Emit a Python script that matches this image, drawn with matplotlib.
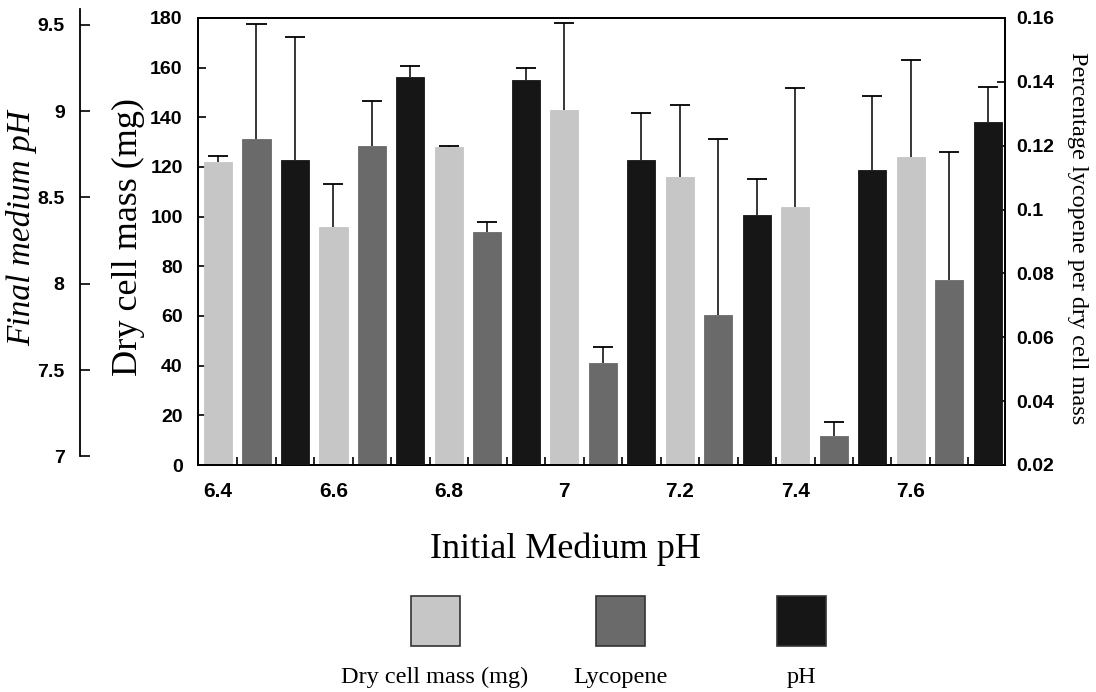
import numpy as np
import matplotlib
matplotlib.use("Agg")
import matplotlib.pyplot as plt
from matplotlib.patches import Rectangle
from matplotlib.ticker import FuncFormatter, FixedLocator

# Initial medium pH groups
initial_ph = ["6.4", "6.6", "6.8", "7", "7.2", "7.4", "7.6"]

# Dry cell mass (mg) and its upper error
dry_mass = [122, 96, 128, 143, 116, 104, 124]
dry_mass_err = [2.5, 17, 0.5, 35, 29, 48, 39]

# Percentage lycopene per dry cell mass and its upper error
lycopene = [0.122, 0.120, 0.093, 0.052, 0.067, 0.029, 0.078]
lycopene_err = [0.036, 0.014, 0.003, 0.005, 0.055, 0.0044, 0.040]

# Final medium pH and its upper error
final_ph = [8.72, 9.20, 9.18, 8.72, 8.40, 8.66, 8.94]
final_ph_err = [0.71, 0.06, 0.07, 0.27, 0.21, 0.43, 0.20]

C_LIGHT = "#c6c6c6"
C_MID = "#6a6a6a"
C_DARK = "#161616"

SERIF = "Liberation Serif"
SANS = "Liberation Sans"

W, H = 1096, 692
fig = plt.figure(figsize=(W / 100, H / 100), dpi=100)
fig.patch.set_facecolor("white")

left, right, top, bottom = 198, 1005, 18, 465
ax = fig.add_axes([left / W, 1 - bottom / H, (right - left) / W, (bottom - top) / H])
ax_ly = ax.twinx()
ax_ph = ax.twinx()

n = len(initial_ph)
x_mass = np.arange(n) * 3
x_ly = x_mass + 1
x_ph = x_mass + 2
bar_w = 0.73
cap_half = 0.26


def bars_with_err(a, xs, vals, errs, color, base):
    a.bar(xs, np.array(vals) - base, bottom=base, width=bar_w, color=color,
          edgecolor=color, linewidth=0.6, zorder=2)
    tops = np.array(vals) + np.array(errs)
    a.vlines(xs, vals, tops, color="black", linewidth=1.1, zorder=3)
    a.hlines(tops, xs - cap_half, xs + cap_half, color="black", linewidth=1.3, zorder=3)


bars_with_err(ax, x_mass, dry_mass, dry_mass_err, C_LIGHT, 0)
bars_with_err(ax_ly, x_ly, lycopene, lycopene_err, C_MID, 0.02)
bars_with_err(ax_ph, x_ph, final_ph, final_ph_err, C_DARK, 6.95)

ax.set_xlim(-0.52, 3 * n - 1 + 0.45)
ax.set_ylim(0, 180)
ax_ly.set_ylim(0.02, 0.16)
ax_ph.set_ylim(6.95, 9.54)

ytick_font = dict(family=SANS, weight="bold", size=14)
xtick_font = dict(family=SANS, weight="bold", size=15)

# left mass axis
ax.set_yticks(np.arange(0, 181, 20))
ax.tick_params(axis="y", direction="in", length=6, width=1.2, pad=11)
for lab in ax.get_yticklabels():
    lab.set(**ytick_font)

# bottom axis: labels under dry-mass bars, tick marks between bars
ax.set_xticks(x_mass)
ax.set_xticklabels(initial_ph)
ax.tick_params(axis="x", which="major", length=0, pad=12)
for lab in ax.get_xticklabels():
    lab.set(**xtick_font)
ax.xaxis.set_minor_locator(FixedLocator(np.arange(0.5, 3 * n - 1, 1.0)))
ax.tick_params(axis="x", which="minor", direction="in", length=6, width=1.2)

# right lycopene axis
ax_ly.set_yticks(np.arange(0.02, 0.161, 0.02))
ax_ly.yaxis.set_major_formatter(FuncFormatter(lambda v, p: f"{v:g}"))
ax_ly.tick_params(axis="y", direction="in", length=6, width=1.2, pad=8)
for lab in ax_ly.get_yticklabels():
    lab.set(**ytick_font)

# far-left final pH axis
ax_ph.spines["left"].set_position(("outward", 85))
ax_ph.spines["left"].set_visible(True)
ax_ph.spines["left"].set_bounds(7, 9.59)
for s in ("right", "top", "bottom"):
    ax_ph.spines[s].set_visible(False)
ax_ph.yaxis.set_ticks_position("left")
ax_ph.set_yticks([7, 7.5, 8, 8.5, 9, 9.5])
ax_ph.yaxis.set_major_formatter(FuncFormatter(lambda v, p: f"{v:g}"))
ax_ph.tick_params(axis="y", direction="in", length=7, width=1.2, pad=11)
for lab in ax_ph.get_yticklabels():
    lab.set(**ytick_font)
ax_ph.patch.set_visible(False)
ax_ly.patch.set_visible(False)

for a in (ax, ax_ly):
    for s in a.spines.values():
        s.set_linewidth(1.3)
ax_ph.spines["left"].set_linewidth(1.3)

# axis titles (anchored on their baselines)
fig.text(137 / W, 1 - 237 / H, "Dry cell mass (mg)", rotation=90, rotation_mode="anchor",
         ha="center", va="baseline", family=SERIF, size=26)
fig.text(30 / W, 1 - 228 / H, "Final medium pH", rotation=90, rotation_mode="anchor",
         ha="center", va="baseline", family=SERIF, style="italic", size=24)
fig.text(1072 / W, 1 - 238 / H, "Percentage lycopene per dry cell mass", rotation=270,
         rotation_mode="anchor", ha="center", va="baseline", family=SERIF, size=17.5)
fig.text(565 / W, 1 - 549 / H, "Initial Medium pH", ha="center", va="center",
         family=SERIF, size=26)

# legend: swatches with captions beneath
legend_items = [("Dry cell mass (mg)", C_LIGHT, 435),
                ("Lycopene", C_MID, 620),
                ("pH", C_DARK, 801)]
for text, color, cx in legend_items:
    fig.patches.append(Rectangle(((cx - 24.5) / W, 1 - 646 / H), 49 / W, 50 / H,
                                 transform=fig.transFigure, facecolor=color,
                                 edgecolor="#333333", linewidth=1.2))
    fig.text(cx / W, 1 - 677 / H, text, ha="center", va="center", family=SERIF, size=17.5)

fig.savefig("out.png", dpi=100, facecolor="white")
